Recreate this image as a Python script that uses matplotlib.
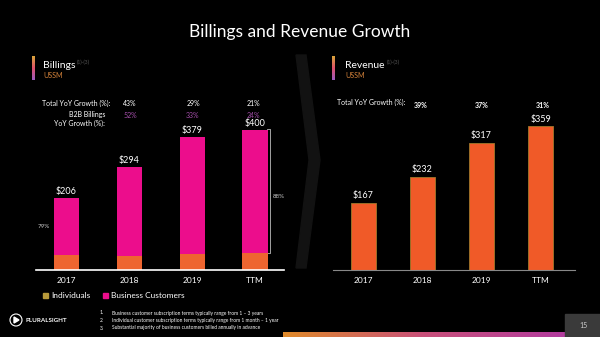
import numpy as np
import matplotlib.pyplot as plt
from matplotlib.patches import Rectangle, Polygon
from matplotlib.colors import LinearSegmentedColormap

plt.rcParams['font.family'] = ['Lato', 'DejaVu Sans']

years = ['2017', '2018', '2019', 'TTM']
billings = [206, 294, 379, 400]
individuals = [43, 41, 46, 48]
business = [b - i for b, i in zip(billings, individuals)]
revenue = [167, 232, 317, 359]
billings_growth = ['43%', '29%', '21%']
b2b_growth = ['52%', '33%', '24%']
revenue_growth = ['39%', '37%', '31%']
footnotes = [
    'Business customer subscription terms typically range from 1 \u2013 3 years',
    'Individual customer subscription terms typically range from 1 month \u2013 1 year',
    'Substantial majority of business customers billed annually in advance',
]

W, H = 600, 337
PINK = '#EC0D8C'
ORANGE = '#EE6530'
PURPLE = '#A24DA8'


def fx(x):
    return x / W


def fy(y):
    return 1 - y / H


fig = plt.figure(figsize=(6, 3.37), dpi=100, facecolor='black')


def txt(x, y, s, **kw):
    kw.setdefault('color', 'white')
    kw.setdefault('fontsize', 5.5)
    kw.setdefault('va', 'center')
    fig.text(fx(x), fy(y), s, **kw)


def add_ax(x0, x1, y_top, y_base):
    ax = fig.add_axes([fx(x0), fy(y_base), (x1 - x0) / W, (y_base - y_top) / H])
    ax.set_facecolor('none')
    for s in ['top', 'right', 'left']:
        ax.spines[s].set_visible(False)
    ax.set_yticks([])
    ax.tick_params(axis='x', length=0, colors='white', labelsize=6, pad=5)
    return ax


txt(300, 32, 'Billings and Revenue Growth', fontsize=12.5, ha='center')

# background chevron between panels
deco = fig.add_axes([0, 0, 1, 1])
deco.set_xlim(0, W)
deco.set_ylim(H, 0)
deco.axis('off')
deco.set_zorder(-1)
deco.add_patch(Polygon([[296, 55], [306, 55], [320, 160], [306, 268], [296, 268], [309, 160]],
                       closed=True, color='#121212'))

# headers with gradient markers
grad = np.linspace(0, 1, 50).reshape(-1, 1)
cmap = LinearSegmentedColormap.from_list('g', ['#D9A53A', '#E0506A', '#9B5BC0'])
for gx in [32, 332]:
    deco.imshow(grad, cmap=cmap, extent=[gx, gx + 3, 80, 56], aspect='auto')
deco.imshow(np.linspace(0, 1, 100).reshape(1, -1),
            cmap=LinearSegmentedColormap.from_list('b', ['#E08A2A', '#C8507A', '#B23C9E']),
            extent=[283, 565, 337, 332], aspect='auto')
deco.add_patch(Rectangle((565, 314), 35, 23, color='#3a3a3a'))
txt(584, 325, '15', fontsize=5, ha='center', color='#cccccc')

txt(43, 65, 'Billings', fontsize=7.5)
txt(77, 62, '(1)-(3)', fontsize=3.5, color='#555555')
txt(43, 76, 'USSM', fontsize=5, color='#D4823A')
txt(345, 65, 'Revenue', fontsize=7.5)
txt(387, 62, '(1)-(3)', fontsize=3.5, color='#555555')
txt(345, 76, 'USSM', fontsize=5, color='#D4823A')

# billings panel
ax1 = add_ax(36, 284, 90, 270)
x = np.arange(len(years))
ax1.bar(x, individuals, width=0.40, color=ORANGE)
ax1.bar(x, business, bottom=individuals, width=0.40, color=PINK)
ax1.set_xlim(-0.48, 3.46)
ax1.set_ylim(0, 514)
ax1.set_xticks(x, years)
ax1.spines['bottom'].set_color('white')
ax1.spines['bottom'].set_linewidth(1.2)
for xi, v in zip(x, billings):
    ax1.text(xi, v + 6, f'${v}', color='white', fontsize=6.5, ha='center', va='bottom')

txt(110, 103, 'Total YoY Growth (%):', fontsize=5, ha='right')
txt(105, 115, 'B2B Billings', fontsize=5, ha='right')
txt(105, 123, 'YoY Growth (%):', fontsize=5, ha='right')
for px, g, b in zip([130, 193, 253], billings_growth, b2b_growth):
    txt(px, 103, g, fontsize=5, ha='center')
    txt(px, 115, b, fontsize=5, ha='center', color=PURPLE)

# share brackets
deco.plot([56, 54, 54, 56], [198, 198, 255, 255], color='#bbbbbb', lw=0.6)
txt(44, 226, '79%', fontsize=4.5, ha='center', color='#cccccc')
deco.plot([267, 270, 270, 267], [129, 129, 253, 253], color='#bbbbbb', lw=0.6)
txt(279, 196, '88%', fontsize=4.5, ha='center', color='#cccccc')

# revenue panel
ax2 = add_ax(333, 575, 90, 270)
ax2.bar(x, revenue, width=0.42, color='#F05A28', edgecolor='#A0782A', linewidth=0.6)
ax2.set_xlim(-0.51, 3.58)
ax2.set_ylim(0, 450)
ax2.set_xticks(x, years)
ax2.spines['bottom'].set_color('#888888')
for xi, v in zip(x, revenue):
    ax2.text(xi, v + 7, f'${v}', color='white', fontsize=6.5, ha='center', va='bottom')

txt(337, 102, 'Total YoY Growth (%):', fontsize=5, ha='left')
for px, g in zip([421, 482, 543], revenue_growth):
    txt(px, 105, g, fontsize=5, ha='center', fontweight='bold')

# legend
deco.add_patch(Rectangle((43, 293), 5, 5, color='#B89A3A'))
txt(51, 296, 'Individuals', fontsize=6)
deco.add_patch(Rectangle((103, 293), 5, 5, color=PINK))
txt(111, 296, 'Business Customers', fontsize=6)

# footnotes
for i, s in enumerate(footnotes):
    txt(100, 313 + i * 7.5, f'{i + 1}.', fontsize=3.5, ha='left')
    txt(112, 313 + i * 7.5, s, fontsize=3.5, ha='left')

# logo
deco.add_patch(plt.Circle((16, 320), 6, fill=False, color='white', lw=0.8))
deco.add_patch(Polygon([[14, 317], [14, 323], [19, 320]], closed=True, color='white'))
txt(26, 320, 'PLURALSIGHT', fontsize=4.5, fontweight='bold')

fig.savefig('out.png', dpi=100, facecolor='black')
